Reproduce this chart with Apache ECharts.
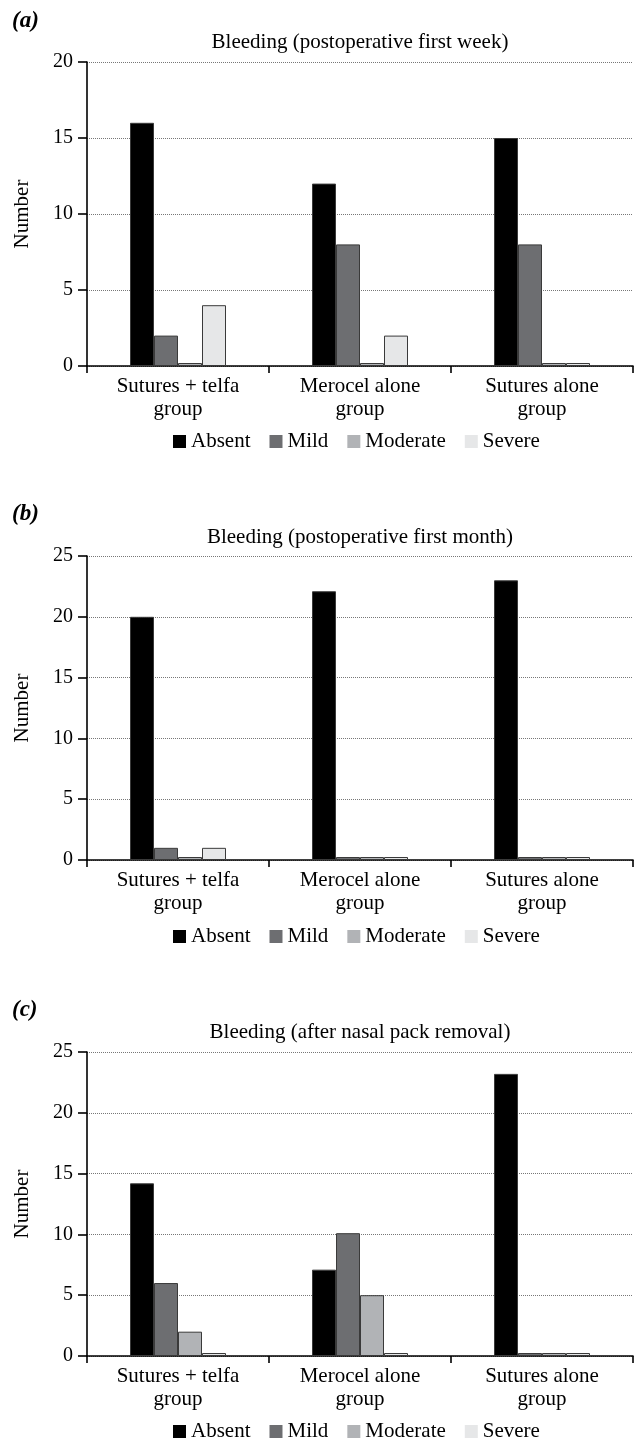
<!DOCTYPE html>
<html>
<head>
<meta charset="utf-8">
<script src="https://cdn.jsdelivr.net/npm/echarts@6/dist/echarts.min.js"></script>
<style>
html,body{margin:0;padding:0;background:#fff;}
#chart{width:637px;height:1440px;}
</style>
</head>
<body>
<div id="chart"></div>
<script>
// ---- data ----
const categories = ['Sutures + telfa\ngroup', 'Merocel alone\ngroup', 'Sutures alone\ngroup'];
const severityLevels = ['Absent', 'Mild', 'Moderate', 'Severe'];
const panelLetters = ['(a)', '(b)', '(c)'];
const panelTitles = ['Bleeding (postoperative first week)', 'Bleeding (postoperative first month)', 'Bleeding (after nasal pack removal)'];
const yMax = [20, 25, 25];
const yInterval = 5;

// (a) first week
const weekAbsent = [16, 12, 15];
const weekMild = [2, 8, 8];
const weekModerate = [0, 0, 0];
const weekSevere = [4, 2, 0];
// (b) first month
const monthAbsent = [20, 22.1, 23];
const monthMild = [1, 0, 0];
const monthModerate = [0, 0, 0];
const monthSevere = [1, 0, 0];
// (c) after nasal pack removal
const packAbsent = [14.2, 7.1, 23.2];
const packMild = [6, 10.1, 0];
const packModerate = [2, 5, 0];
const packSevere = [0, 0, 0];

const panelData = [
  [weekAbsent, weekMild, weekModerate, weekSevere],
  [monthAbsent, monthMild, monthModerate, monthSevere],
  [packAbsent, packMild, packModerate, packSevere]
];

// ---- styling ----
const FONT = "'Liberation Serif', 'Times New Roman', serif";
const colors = ['#000000', '#6d6e71', '#b1b3b6', '#e6e7e8'];
const gridTop = [62, 556, 1052];
const gridH = 304;
const gridLeft = 87;
const gridW = 546;
const titleY = [32, 527, 1022];
const letterY = [10, 503, 999];
const legendTop = [431, 926, 1421];

const grids = [], xAxes = [], yAxes = [], series = [], titles = [], legends = [];
for (let p = 0; p < 3; p++) {
  grids.push({left: gridLeft, top: gridTop[p], width: gridW, height: gridH, containLabel: false});
  xAxes.push({
    type: 'category', gridIndex: p, data: categories,
    axisLine: {show: true, lineStyle: {color: '#000', width: 1.6}},
    axisTick: {show: true, length: 7, lineStyle: {color: '#000', width: 1.6}},
    axisLabel: {color: '#000', fontFamily: FONT, fontSize: 21, lineHeight: 23, margin: 9},
    splitLine: {show: false}
  });
  yAxes.push({
    type: 'value', gridIndex: p, min: 0, max: yMax[p], interval: yInterval,
    name: 'Number', nameLocation: 'middle', nameGap: 54,
    nameTextStyle: {color: '#000', fontFamily: FONT, fontSize: 21},
    axisLine: {show: true, lineStyle: {color: '#000', width: 1.6}},
    axisTick: {show: true, length: 9, lineStyle: {color: '#000', width: 1.6}},
    axisLabel: {color: '#000', fontFamily: FONT, fontSize: 20, margin: 14},
    splitLine: {show: true, lineStyle: {color: '#777', width: 1, type: 'dotted'}}
  });
  severityLevels.forEach((name, i) => {
    series.push({
      type: 'bar', name: name, xAxisIndex: p, yAxisIndex: p,
      data: panelData[p][i],
      barWidth: 24, barGap: '0%', barMinHeight: 3,
      itemStyle: {color: colors[i], borderColor: '#3a3a3a', borderWidth: 1},
      emphasis: {disabled: true},
      animation: false
    });
  });
  titles.push({
    text: panelLetters[p], left: 12, top: letterY[p], padding: 0,
    textStyle: {fontFamily: FONT, fontSize: 23, fontWeight: 'bold', fontStyle: 'italic', color: '#000'}
  });
  titles.push({
    text: panelTitles[p], left: 360, top: titleY[p], padding: 0, textAlign: 'center',
    textStyle: {fontFamily: FONT, fontSize: 21, fontWeight: 'normal', color: '#000'}
  });
  legends.push({
    data: severityLevels, left: 173, top: legendTop[p], padding: 0,
    icon: 'rect', itemWidth: 13, itemHeight: 13, itemGap: 19,
    itemStyle: {borderWidth: 0},
    selectedMode: false,
    textStyle: {fontFamily: FONT, fontSize: 21, color: '#000', padding: [0, 0, 0, 0]}
  });
}

const chart = echarts.init(document.getElementById('chart'), null, {renderer: 'canvas'});
chart.setOption({
  backgroundColor: '#fff',
  animation: false,
  title: titles,
  legend: legends,
  grid: grids,
  xAxis: xAxes,
  yAxis: yAxes,
  series: series
});
</script>
</body>
</html>
